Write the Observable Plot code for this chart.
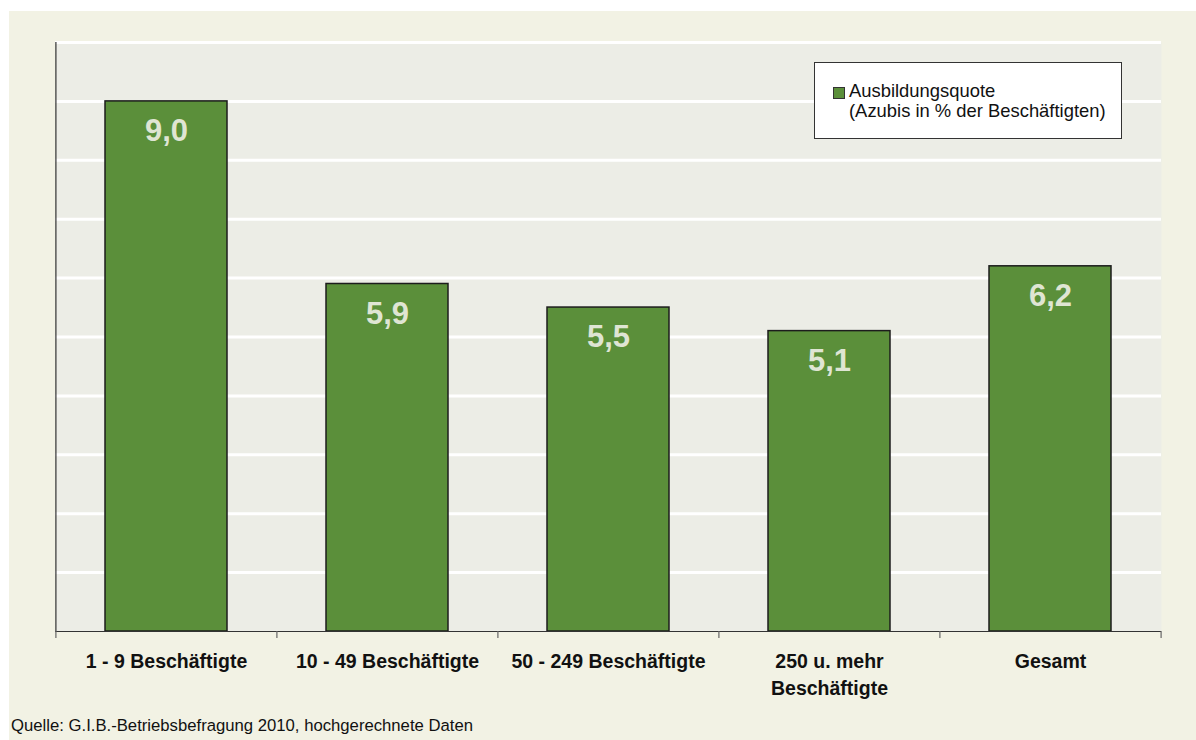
<!DOCTYPE html>
<html>
<head>
<meta charset="utf-8">
<script src="https://cdn.jsdelivr.net/npm/d3@7"></script>
<script src="https://cdn.jsdelivr.net/npm/@observablehq/plot@0.6"></script>
<style>
  html, body { margin: 0; padding: 0; background: #ffffff; width: 1196px; height: 740px; overflow: hidden; }
  #panel { position: absolute; left: 9px; top: 11px; width: 1187px; height: 729px; background: #f2f2e4; font-family: "Liberation Sans", Arial, sans-serif; }
  #chart { position: absolute; left: 0; top: 0; }
  #legend { position: absolute; left: 805px; top: 51px; width: 308px; height: 77px; background: #ffffff; border: 1px solid #333; box-sizing: border-box; font-size: 18.4px; color: #111; }
  #legend .sw { position: absolute; left: 18px; top: 24px; width: 12px; height: 12px; background: #5b8f3a; border: 1px solid #333; box-sizing: border-box; }
  #legend .t { position: absolute; left: 34px; top: 18px; line-height: 20px; white-space: nowrap; }
  #caption { position: absolute; left: 2px; top: 705px; font-size: 16.7px; color: #111; white-space: nowrap; }
</style>
</head>
<body>
<div id="panel">
  <div id="chart"></div>
  <div id="legend"><div class="sw"></div><div class="t">Ausbildungsquote<br>(Azubis in % der Beschäftigten)</div></div>
  <div id="caption">Quelle: G.I.B.-Betriebsbefragung 2010, hochgerechnete Daten</div>
</div>
<script>
const categories = ["1 - 9 Beschäftigte", "10 - 49 Beschäftigte", "50 - 249 Beschäftigte", "250 u. mehr\nBeschäftigte", "Gesamt"];
const values = [9.0, 5.9, 5.5, 5.1, 6.2];
const labels = ["9,0", "5,9", "5,5", "5,1", "6,2"];
const gridValues = [1, 2, 3, 4, 5, 6, 7, 8, 9, 10];

const data = categories.map((c, i) => ({cat: c, value: values[i], label: labels[i]}));

const W = 1187, H = 690;
const mL = 46, mT = 31, mR = 35, mB = 70;
const plotW = W - mL - mR;
const plotH = H - mT - mB;
const half = plotW / categories.length / 2;
const tickUnits = 7 / (plotH / 10);

const chart = Plot.plot({
  width: W,
  height: H,
  marginLeft: mL,
  marginTop: mT,
  marginRight: mR,
  marginBottom: mB,
  style: {background: "transparent", fontFamily: "'Liberation Sans', Arial, sans-serif"},
  x: {domain: categories, paddingInner: 0.45, paddingOuter: 0.225, label: null},
  y: {domain: [0, 10], label: null},
  marks: [
    Plot.frame({fill: "#ecede6", stroke: null}),
    Plot.ruleY(gridValues, {stroke: "#ffffff", strokeWidth: 3}),
    Plot.barY(data, {x: "cat", y: "value", fill: "#5b8f3a", stroke: "#1c1c1c", strokeWidth: 1.5}),
    Plot.text(data, {x: "cat", y: "value", text: "label", dy: 30, fill: "#dfe5d3", fontSize: 31, fontWeight: "bold"}),
    Plot.ruleY([0], {stroke: "#333", strokeWidth: 1.2}),
    Plot.ruleX([categories[0]], {dx: -half, stroke: "#333", strokeWidth: 1.2}),
    Plot.ruleX(categories, {dx: -half, y1: 0, y2: -tickUnits, stroke: "#666", strokeWidth: 1.2}),
    Plot.ruleX([categories[categories.length - 1]], {dx: half, y1: 0, y2: -tickUnits, stroke: "#666", strokeWidth: 1.2}),
    Plot.axisX({tickSize: 0, tickPadding: 18, fontSize: 19.5, fontWeight: "bold", fill: "#111", lineHeight: 1.35, label: null}),
    Plot.axisY({ticks: [], label: null})
  ]
});
document.getElementById("chart").appendChild(chart);
</script>
</body>
</html>
